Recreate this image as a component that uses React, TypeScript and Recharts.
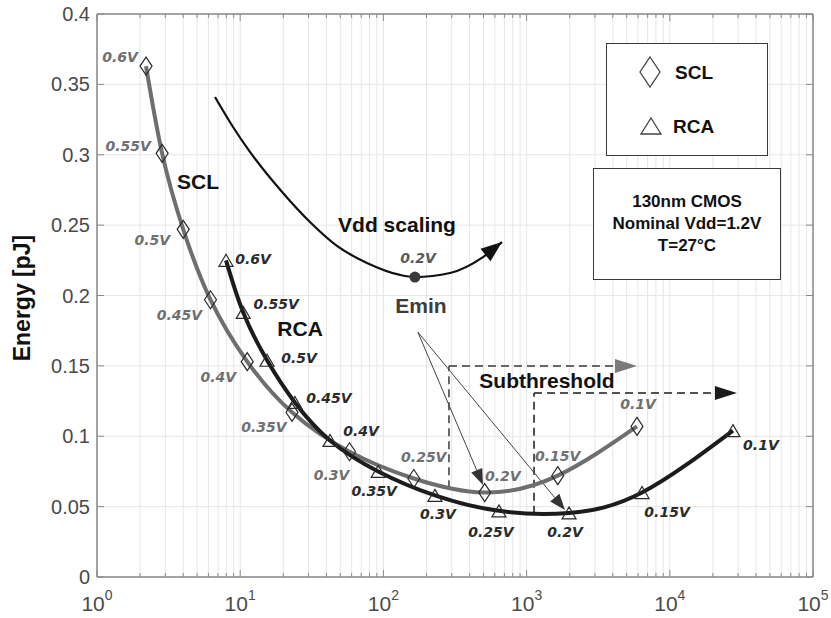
import React from 'react';
import { LineChart, Line, XAxis, YAxis, CartesianGrid, ReferenceLine, ReferenceDot } from 'recharts';

// Energy vs. delay of SCL and RCA adders under supply voltage scaling (130nm CMOS)
const VDD_LABELS = ['0.6V', '0.55V', '0.5V', '0.45V', '0.4V', '0.35V', '0.3V', '0.25V', '0.2V', '0.15V', '0.1V'];

const SCL_DELAY = [2.2, 2.85, 4.0, 6.2, 11.2, 23, 58, 163, 510, 1650, 5900];
const SCL_ENERGY = [0.363, 0.301, 0.247, 0.197, 0.153, 0.117, 0.089, 0.07, 0.06, 0.072, 0.107];

const RCA_DELAY = [7.96, 10.5, 15.4, 24.1, 42.4, 92, 229, 641, 1980, 6400, 27600];
const RCA_ENERGY = [0.225, 0.188, 0.154, 0.124, 0.097, 0.075, 0.058, 0.047, 0.0455, 0.06, 0.104];

// generic "Vdd scaling" trend sketch, Emin sits at index 8
const VDD_TREND_DELAY = [6.67, 8.91, 11.7, 19.9, 30.7, 47.4, 76.8, 130.6, 166, 292, 496, 673];
const VDD_TREND_ENERGY = [0.341, 0.3197, 0.302, 0.2728, 0.2522, 0.2352, 0.2231, 0.2146, 0.2131, 0.216, 0.2273, 0.238];
const EMIN_INDEX = 8;

const X_DECADES = [1, 10, 100, 1000, 10000, 100000];
const X_EXPONENTS = ['0', '1', '2', '3', '4', '5'];
const Y_TICKS = [0, 0.05, 0.1, 0.15, 0.2, 0.25, 0.3, 0.35, 0.4];

// label offsets (px) from each marker
const SCL_LABEL_OFFSET = [[-26, -9], [-34, -7], [-31, 11], [-31, 15], [-29, 15], [-28, 15], [-18, 23], [10, -21], [18, -17], [0, -20], [1, -22]];
const RCA_LABEL_OFFSET = [[27, -1], [33, -8], [32, -2], [34, -4], [31, -9], [-4, 20], [3, 19], [-8, 21], [-4, 19], [25, 19], [28, 14]];

const W = 831;
const H = 618;
const Y_AXIS_W = 97;
const X_AXIS_H = 41;
const MARGIN = { top: 14, right: 18, bottom: 0, left: 0 };
const PLOT_W = W - Y_AXIS_W - MARGIN.right;
const PLOT_H = H - MARGIN.top - X_AXIS_H;

const SANS = '"Liberation Sans", Arial, Helvetica, sans-serif';
const LABEL_FONT = '"DejaVu Sans", Verdana, sans-serif';
const FRAME = '#8a8a8a';
const SCL_COLOR = '#6e6e6e';
const RCA_COLOR = '#1c1c1c';

const minorTicks = X_DECADES.slice(0, -1).flatMap((d) => [2, 3, 4, 5, 6, 7, 8, 9].map((m) => m * d));
const X_TICKS = [...X_DECADES, ...minorTicks].sort((a, b) => a - b);

const sclData = SCL_DELAY.map((d, i) => ({ d, e: SCL_ENERGY[i], v: VDD_LABELS[i] }));
const rcaData = RCA_DELAY.map((d, i) => ({ d, e: RCA_ENERGY[i], v: VDD_LABELS[i] }));
const trendData = VDD_TREND_DELAY.map((d, i) => ({ d, e: VDD_TREND_ENERGY[i] }));

const XTick = (props: any) => {
  const { x, y, payload } = props;
  const idx = X_DECADES.indexOf(payload.value);
  const len = idx >= 0 ? 7 : 4;
  return (
    <g>
      <line x1={x} y1={y} x2={x} y2={y - len} stroke={FRAME} strokeWidth={1} />
      <line x1={x} y1={y - PLOT_H} x2={x} y2={y - PLOT_H + len} stroke={FRAME} strokeWidth={1} />
      {idx >= 0 && (
        <text x={x} y={y + 34} textAnchor="middle" fill="#4a4a4a" fontFamily={SANS} fontSize={21}>
          10
          <tspan dy={-11} fontSize={14}>{X_EXPONENTS[idx]}</tspan>
        </text>
      )}
    </g>
  );
};

const YTick = (props: any) => {
  const { x, y, payload } = props;
  return (
    <g>
      <line x1={x} y1={y} x2={x + 7} y2={y} stroke={FRAME} strokeWidth={1} />
      <line x1={x + PLOT_W - 7} y1={y} x2={x + PLOT_W} y2={y} stroke={FRAME} strokeWidth={1} />
      <text x={x - 7} y={y + 7} textAnchor="end" fill="#4a4a4a" fontFamily={SANS} fontSize={20}>
        {String(payload.value)}
      </text>
    </g>
  );
};

const makeDot = (kind: 'diamond' | 'triangle', offsets: number[][], labelColor: string) => (props: any) => {
  const { cx, cy, index, payload } = props;
  const [dx, dy] = offsets[index];
  const marker =
    kind === 'diamond'
      ? `${cx},${cy - 9} ${cx + 6},${cy} ${cx},${cy + 9} ${cx - 6},${cy}`
      : `${cx},${cy - 6} ${cx + 7},${cy + 6} ${cx - 7},${cy + 6}`;
  return (
    <g key={`${kind}-${index}`}>
      <polygon points={marker} fill="none" stroke="#2a2a2a" strokeWidth={1.2} />
      <text
        x={cx + dx}
        y={cy + dy + 5}
        textAnchor="middle"
        fill={labelColor}
        fontFamily={LABEL_FONT}
        fontSize={14}
        fontWeight="bold"
        fontStyle="italic"
      >
        {payload.v}
      </text>
    </g>
  );
};

const arrowHead = (x1: number, y1: number, x2: number, y2: number, len: number, half: number) => {
  const a = Math.atan2(y2 - y1, x2 - x1);
  const bx = x2 - len * Math.cos(a);
  const by = y2 - len * Math.sin(a);
  const px = -Math.sin(a) * half;
  const py = Math.cos(a) * half;
  return { bx, by, pts: `${x2},${y2} ${bx + px},${by + py} ${bx - px},${by - py}` };
};

const arrowShape = (color: string, headColor: string | null, width: number, dash?: string, len = 18, half = 6) => (props: any) => {
  const { x1, y1, x2, y2 } = props;
  if (!headColor) {
    return <line x1={x1} y1={y1} x2={x2} y2={y2} stroke={color} strokeWidth={width} strokeDasharray={dash} />;
  }
  const h = arrowHead(x1, y1, x2, y2, len, half);
  return (
    <g>
      <line x1={x1} y1={y1} x2={h.bx} y2={h.by} stroke={color} strokeWidth={width} strokeDasharray={dash} />
      <polygon points={h.pts} fill={headColor} />
    </g>
  );
};

const trendDot = (props: any) => {
  const { cx, cy, index, points } = props;
  if (index === EMIN_INDEX) {
    return <circle key="emin" cx={cx} cy={cy} r={5.5} fill="#3a3a3a" />;
  }
  if (index === VDD_TREND_DELAY.length - 1) {
    const prev = points && points[index - 1] ? points[index - 1] : { x: cx - 20, y: cy + 15 };
    const h = arrowHead(prev.x, prev.y, cx, cy, 21, 8);
    return <polygon key="tip" points={h.pts} fill="#111" />;
  }
  return <g key={`t-${index}`} />;
};

const ANNOTATIONS = [
  { text: 'SCL', x: 5.07, y: 0.2813, size: 21, color: '#111' },
  { text: 'RCA', x: 26.2, y: 0.1769, size: 21, color: '#111' },
  { text: 'Vdd scaling', x: 124.5, y: 0.2508, size: 21, color: '#111' },
  { text: 'Emin', x: 183, y: 0.1932, size: 21, color: '#3d3d3d' },
  { text: 'Subthreshold', x: 1388, y: 0.14, size: 21, color: '#111' },
];

const textShape = (text: string, size: number, color: string) => (props: any) => (
  <text x={props.cx} y={props.cy + size * 0.36} textAnchor="middle" fill={color} fontFamily={SANS} fontSize={size} fontWeight="bold">
    {text}
  </text>
);

const italicShape = (text: string) => (props: any) => (
  <text
    x={props.cx}
    y={props.cy + 5}
    textAnchor="middle"
    fill="#5a5a5a"
    fontFamily={LABEL_FONT}
    fontSize={14}
    fontWeight="bold"
    fontStyle="italic"
  >
    {text}
  </text>
);

const boxText: React.CSSProperties = { fontFamily: SANS, fontWeight: 'bold', color: '#111' };

export default function App() {
  return (
    <div style={{ position: 'absolute', left: 0, top: 0, width: W, height: H, background: '#fff' }}>
      <LineChart width={W} height={H} margin={MARGIN}>
        <CartesianGrid stroke="#e6e6e6" strokeWidth={1} />
        <XAxis
          dataKey="d"
          type="number"
          scale="log"
          domain={[1, 100000]}
          ticks={X_TICKS}
          interval={0}
          allowDataOverflow
          height={X_AXIS_H}
          tickSize={0}
          tickMargin={0}
          tick={<XTick />}
          stroke={FRAME}
          strokeWidth={1.5}
        />
        <YAxis
          type="number"
          domain={[0, 0.4]}
          ticks={Y_TICKS}
          interval={0}
          allowDataOverflow
          width={Y_AXIS_W}
          tickSize={0}
          tickMargin={0}
          tick={<YTick />}
          stroke={FRAME}
          strokeWidth={1.5}
        />
        <ReferenceLine y={0.4} stroke={FRAME} strokeWidth={1.5} />
        <ReferenceLine x={100000} stroke={FRAME} strokeWidth={1.5} />

        {/* subthreshold regions */}
        <ReferenceLine segment={[{ x: 287, y: 0.063 }, { x: 287, y: 0.15 }]} shape={arrowShape('#3a3a3a', null, 1.5, '8 5')} />
        <ReferenceLine segment={[{ x: 287, y: 0.15 }, { x: 5900, y: 0.15 }]} shape={arrowShape('#3a3a3a', '#7a7a7a', 1.5, '8 5', 22, 7)} />
        <ReferenceLine segment={[{ x: 1127, y: 0.045 }, { x: 1127, y: 0.1307 }]} shape={arrowShape('#1a1a1a', null, 1.5, '8 5')} />
        <ReferenceLine segment={[{ x: 1127, y: 0.1307 }, { x: 29400, y: 0.1307 }]} shape={arrowShape('#1a1a1a', '#1a1a1a', 1.5, '8 5', 22, 7)} />

        {/* Emin pointers */}
        <ReferenceLine segment={[{ x: 174, y: 0.174 }, { x: 496, y: 0.0654 }]} shape={arrowShape('#444', '#333', 1, undefined, 16, 6)} />
        <ReferenceLine segment={[{ x: 174, y: 0.174 }, { x: 1854, y: 0.0476 }]} shape={arrowShape('#444', '#333', 1, undefined, 16, 6)} />

        <Line
          data={trendData}
          dataKey="e"
          type="monotone"
          stroke="#111"
          strokeWidth={2.2}
          dot={trendDot}
          activeDot={false}
          isAnimationActive={false}
        />
        <Line
          data={sclData}
          dataKey="e"
          type="natural"
          stroke={SCL_COLOR}
          strokeWidth={4}
          dot={makeDot('diamond', SCL_LABEL_OFFSET, '#707070')}
          activeDot={false}
          isAnimationActive={false}
        />
        <Line
          data={rcaData}
          dataKey="e"
          type="natural"
          stroke={RCA_COLOR}
          strokeWidth={4}
          dot={makeDot('triangle', RCA_LABEL_OFFSET, '#2b2b2b')}
          activeDot={false}
          isAnimationActive={false}
        />

        {ANNOTATIONS.map((a) => (
          <ReferenceDot key={a.text} x={a.x} y={a.y} r={0} shape={textShape(a.text, a.size, a.color)} />
        ))}
        <ReferenceDot x={174.4} y={0.2266} r={0} shape={italicShape('0.2V')} />
      </LineChart>

      <div
        style={{
          position: 'absolute',
          left: 22,
          top: 298,
          transform: 'translate(-50%, -50%) rotate(-90deg)',
          whiteSpace: 'nowrap',
          ...boxText,
          fontSize: 23,
        }}
      >
        Energy [pJ]
      </div>

      <div
        style={{
          position: 'absolute',
          left: 606,
          top: 43,
          width: 160,
          height: 111,
          border: '1.5px solid #3a3a3a',
          background: '#fff',
        }}
      >
        <svg width={160} height={111} style={{ position: 'absolute', left: 0, top: 0 }}>
          <polygon points="43,13 53,28 43,43 33,28" fill="none" stroke="#444" strokeWidth={1.3} />
          <polygon points="44,74 54,90 34,90" fill="none" stroke="#444" strokeWidth={1.3} />
          <text x={68} y={35} fontFamily={SANS} fontWeight="bold" fontSize={19} fill="#111">SCL</text>
          <text x={66} y={89} fontFamily={SANS} fontWeight="bold" fontSize={19} fill="#111">RCA</text>
        </svg>
      </div>

      <div
        style={{
          position: 'absolute',
          left: 593,
          top: 168,
          width: 186,
          height: 110,
          border: '1.5px solid #3a3a3a',
          background: '#fff',
          display: 'flex',
          flexDirection: 'column',
          alignItems: 'center',
          justifyContent: 'center',
          ...boxText,
          fontSize: 17,
          lineHeight: '22px',
        }}
      >
        <div>130nm CMOS</div>
        <div>Nominal Vdd=1.2V</div>
        <div>T=27°C</div>
      </div>
    </div>
  );
}
